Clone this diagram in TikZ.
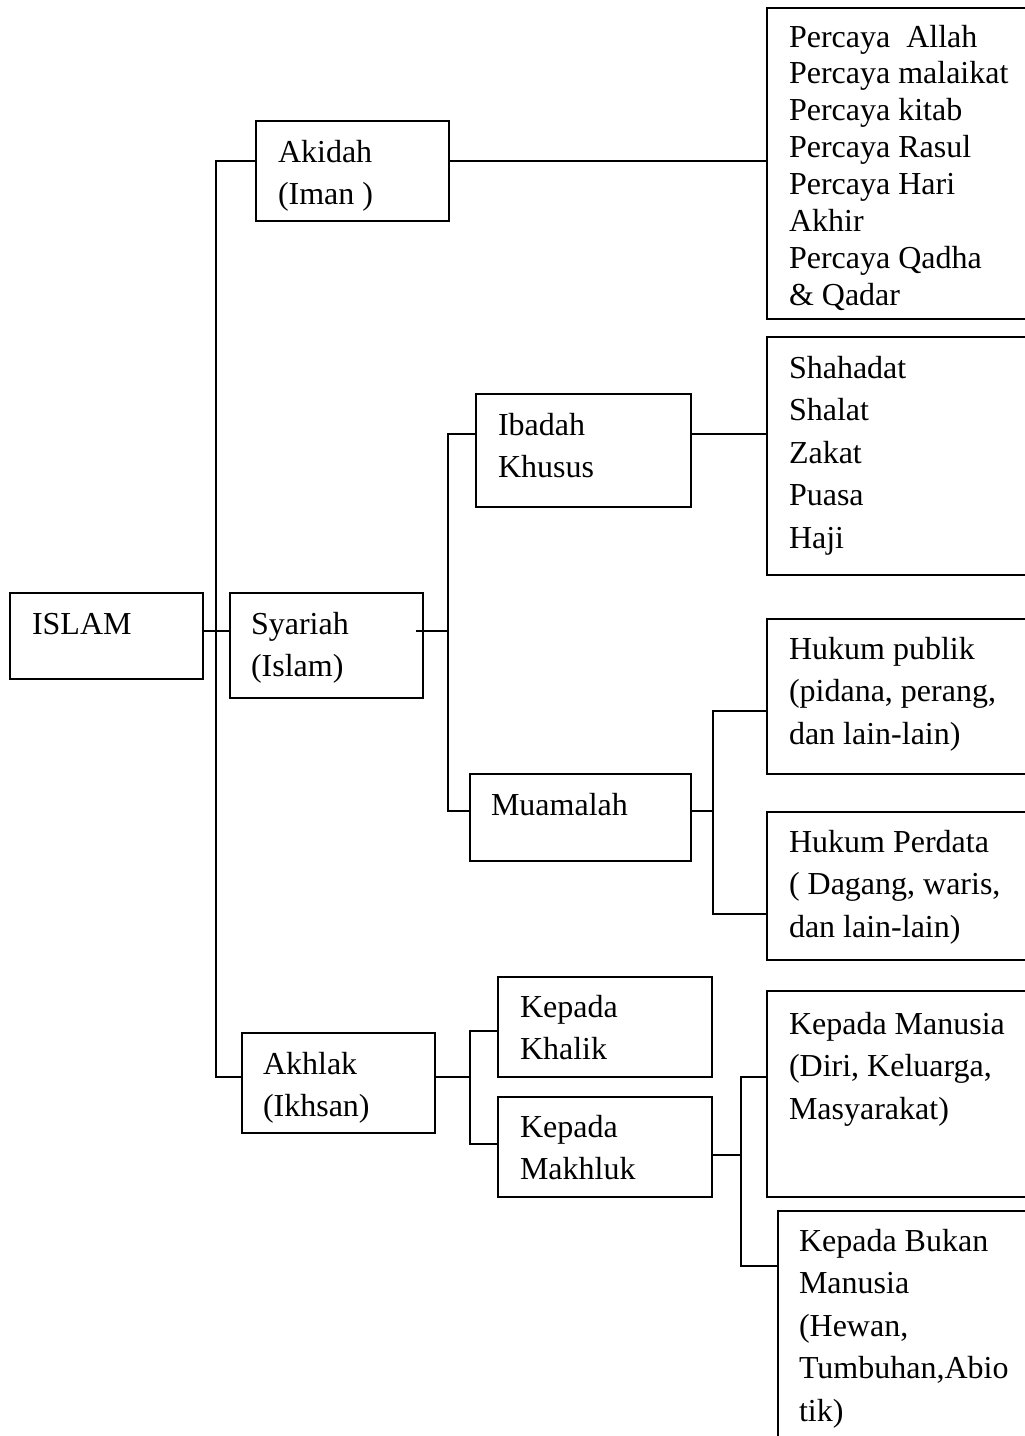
\documentclass[tikz,border=0pt]{standalone}
\usepackage{fontspec}
\setmainfont{Liberation Serif}
\newcommand{\mylines}[1]{\begin{tabular}[t]{@{}l@{}}#1\end{tabular}}
\begin{document}
\begin{tikzpicture}[x=1pt,y=-1pt,
  box/.style={draw,line width=1.6pt,rectangle,inner sep=0pt,outer sep=0pt},
  txt/.style={anchor=base west,inner sep=0pt,outer sep=0pt,font=\fontsize{32}{42.5}\selectfont},
  txtb/.style={anchor=base west,inner sep=0pt,outer sep=0pt,font=\fontsize{32}{36.9}\selectfont},
  conn/.style={line width=1.6pt}]
\useasboundingbox (0,0) rectangle (1025,1436);
\clip (0,0) rectangle (1025,1436);
\fill[white] (0,0) rectangle (1025,1436);
% boxes
\node[box,minimum width=193pt,minimum height=86pt] (islam) at (106.5,636) {};
\node[box,minimum width=193pt,minimum height=100pt] (akidah) at (352.5,171) {};
\node[box,minimum width=193pt,minimum height=105pt] (syariah) at (326.5,645.5) {};
\node[box,minimum width=193pt,minimum height=100pt] (akhlak) at (338.5,1083) {};
\node[box,minimum width=215pt,minimum height=113pt] (ibadah) at (583.5,450.5) {};
\node[box,minimum width=221pt,minimum height=87pt] (muamalah) at (580.5,817.5) {};
\node[box,minimum width=214pt,minimum height=100pt] (khalik) at (605,1027) {};
\node[box,minimum width=214pt,minimum height=100pt] (makhluk) at (605,1147) {};
\node[box,minimum width=273pt,minimum height=311pt] (percaya) at (903.5,163.5) {};
\node[box,minimum width=273pt,minimum height=238pt] (rukun) at (903.5,456) {};
\node[box,minimum width=273pt,minimum height=155pt] (publik) at (903.5,696.5) {};
\node[box,minimum width=273pt,minimum height=148pt] (perdata) at (903.5,886) {};
\node[box,minimum width=273pt,minimum height=206pt] (manusia) at (903.5,1094) {};
\node[box,minimum width=262pt,minimum height=239pt] (bukan) at (909,1330.5) {};
% texts
\node[txt] (tislam) at (32,634) {\mylines{ISLAM}};
\node[txt] (takidah) at (278,162) {\mylines{Akidah\\(Iman )}};
\node[txt] (tsyariah) at (251,634) {\mylines{Syariah\\(Islam)}};
\node[txt] (takhlak) at (263,1074) {\mylines{Akhlak\\(Ikhsan)}};
\node[txt] (tibadah) at (498,435) {\mylines{Ibadah\\Khusus}};
\node[txt] (tmuamalah) at (491,815) {\mylines{Muamalah}};
\node[txt] (tkhalik) at (520,1017) {\mylines{Kepada\\Khalik}};
\node[txt] (tmakhluk) at (520,1137) {\mylines{Kepada\\Makhluk}};
\node[txtb] (tpercaya) at (789,47) {\mylines{Percaya~ Allah\\Percaya malaikat\\Percaya kitab\\Percaya Rasul\\Percaya Hari\\Akhir\\Percaya Qadha\\\& Qadar}};
\node[txt] (trukun) at (789,378) {\mylines{Shahadat\\Shalat\\Zakat\\Puasa\\Haji}};
\node[txt] (tpublik) at (789,659) {\mylines{Hukum publik\\(pidana, perang,\\dan lain-lain)}};
\node[txt] (tperdata) at (789,852) {\mylines{Hukum Perdata\\( Dagang, waris,\\dan lain-lain)}};
\node[txt] (tmanusia) at (789,1034) {\mylines{Kepada Manusia\\(Diri, Keluarga,\\Masyarakat)}};
\node[txt] (tbukan) at (799,1251) {\mylines{Kepada Bukan\\Manusia\\(Hewan,\\Tumbuhan,Abio\\tik)}};
% junction coordinates
\coordinate (t1) at (216,161);
\coordinate (t2) at (216,1077);
\coordinate (s0) at (416,631);
\coordinate (s1) at (448,434);
\coordinate (s2) at (448,811);
\coordinate (m0) at (713,811);
\coordinate (m1) at (713,711);
\coordinate (m2) at (713,914);
\coordinate (a0) at (470,1077);
\coordinate (a1) at (470,1031);
\coordinate (a2) at (470,1144);
\coordinate (k0) at (741,1155);
\coordinate (k1) at (741,1077);
\coordinate (k2) at (741,1266);
% connectors
\draw[conn] (islam.east |- s0) -- (syariah.west |- s0);
\draw[conn] (akidah.west |- t1) -- (t1) -- (t2) -- (akhlak.west |- t2);
\draw[conn] (akidah.east |- t1) -- (percaya.west |- t1);
\draw[conn] (s0) -- (s1 |- s0);
\draw[conn] (ibadah.west |- s1) -- (s1) -- (s2) -- (muamalah.west |- s2);
\draw[conn] (ibadah.east |- s1) -- (rukun.west |- s1);
\draw[conn] (muamalah.east |- m0) -- (m0);
\draw[conn] (publik.west |- m1) -- (m1) -- (m2) -- (perdata.west |- m2);
\draw[conn] (akhlak.east |- a0) -- (a0);
\draw[conn] (khalik.west |- a1) -- (a1) -- (a2) -- (makhluk.west |- a2);
\draw[conn] (makhluk.east |- k0) -- (k0);
\draw[conn] (manusia.west |- k1) -- (k1) -- (k2) -- (bukan.west |- k2);
\end{tikzpicture}
\end{document}
